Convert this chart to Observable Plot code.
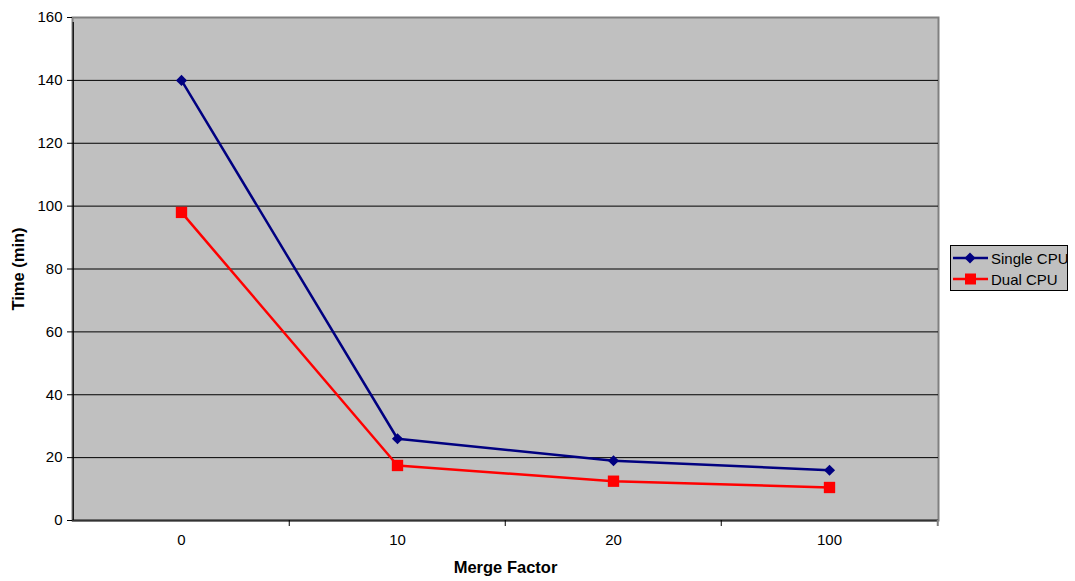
<!DOCTYPE html>
<html>
<head>
<meta charset="utf-8">
<script src="https://cdn.jsdelivr.net/npm/d3@7"></script>
<script src="https://cdn.jsdelivr.net/npm/@observablehq/plot@0.6"></script>
<style>
  html, body { margin: 0; padding: 0; background: #fff; }
  #wrap { position: relative; width: 1075px; height: 581px; font-family: Arial, "Liberation Sans", sans-serif; }
  #legend { position: absolute; left: 950px; top: 245px; width: 116px; height: 44px; background: #c0c0c0; border: 1px solid #000; font-size: 15px; color: #000; }
  #legend .row { position: absolute; left: 2px; height: 16px; display: flex; align-items: center; white-space: nowrap; }
  #legend svg { display: block; }
  #legend span { margin-left: 3px; }
</style>
</head>
<body>
<div id="wrap"></div>
<script>
const categories = ["0", "10", "20", "100"];
const singleCPU = [140, 26, 19, 16];
const dualCPU = [98, 17.5, 12.5, 10.5];
const yTicks = [0, 20, 40, 60, 80, 100, 120, 140, 160];
const seriesNames = ["Single CPU", "Dual CPU"];
const seriesColors = ["#000080", "#ff0000"];

const W = 1075, H = 581, ML = 72, MR = 137, MT = 17, MB = 61;
const bw = (W - ML - MR) / categories.length;

const singleRows = categories.map((c, i) => ({cat: c, value: singleCPU[i]}));
const dualRows = categories.map((c, i) => ({cat: c, value: dualCPU[i]}));

const chart = Plot.plot({
  width: W, height: H,
  marginLeft: ML, marginRight: MR, marginTop: MT, marginBottom: MB,
  style: {fontFamily: "Arial, 'Liberation Sans', sans-serif", fontSize: "15px", background: "#fff", color: "#000"},
  x: {type: "band", domain: categories, padding: 0},
  y: {domain: [0, 160]},
  marks: [
    Plot.frame({fill: "#c0c0c0", stroke: "#808080", strokeWidth: 2}),
    Plot.ruleY(yTicks.filter(t => t > 0 && t < 160), {stroke: "#000", strokeWidth: 1}),
    Plot.ruleY([0], {stroke: "#333", strokeWidth: 2}),
    Plot.ruleX([categories[0]], {x: d => d, y1: 0, y2: 160, dx: -bw / 2, insetBottom: -5, stroke: "#000", strokeWidth: 1.2}),
    Plot.ruleX(categories.slice(1), {x: d => d, y1: 0, y2: 0, dx: -bw / 2, insetBottom: -6, stroke: "#000"}),
    Plot.ruleX([categories[categories.length - 1]], {x: d => d, y1: 0, y2: 0, dx: bw / 2, insetBottom: -6, stroke: "#808080", strokeWidth: 2}),
    Plot.axisY({ticks: yTicks, tickSize: 5, tickPadding: 5, label: null, tickFormat: d => String(d), fontSize: 15}),
    Plot.axisX({tickSize: 0, tickPadding: 14, label: null, fontSize: 15}),
    Plot.line(singleRows, {x: "cat", y: "value", stroke: seriesColors[0], strokeWidth: 2.5}),
    Plot.line(dualRows, {x: "cat", y: "value", stroke: seriesColors[1], strokeWidth: 2.5}),
    Plot.dot(singleRows, {x: "cat", y: "value", symbol: "diamond2", r: 5, fill: seriesColors[0]}),
    Plot.dot(dualRows, {x: "cat", y: "value", symbol: "square", r: 6.4, fill: seriesColors[1]}),
    Plot.text(["Time (min)"], {frameAnchor: "left", dx: -54, rotate: -90, text: d => d, fontWeight: "bold", fontSize: 16.5, textAnchor: "middle"}),
    Plot.text(["Merge Factor"], {frameAnchor: "bottom", dy: 52, text: d => d, fontWeight: "bold", fontSize: 16.5, textAnchor: "middle"})
  ]
});
document.getElementById("wrap").appendChild(chart);

// legend
const legend = document.createElement("div");
legend.id = "legend";
const symbols = ["diamond", "square"];
seriesNames.forEach((name, i) => {
  const row = document.createElement("div");
  row.className = "row";
  row.style.top = (i === 0 ? 4 : 25) + "px";
  const color = seriesColors[i];
  const marker = symbols[i] === "diamond"
    ? `<path d="M17,2.5 L22.5,8 L17,13.5 L11.5,8 Z" fill="${color}"/>`
    : `<rect x="12" y="2.5" width="11" height="11" fill="${color}"/>`;
  row.innerHTML = `<svg width="35" height="16"><line x1="0" y1="8" x2="35" y2="8" stroke="${color}" stroke-width="2.5"/>${marker}</svg><span>${name}</span>`;
  legend.appendChild(row);
});
document.getElementById("wrap").appendChild(legend);
</script>
</body>
</html>
